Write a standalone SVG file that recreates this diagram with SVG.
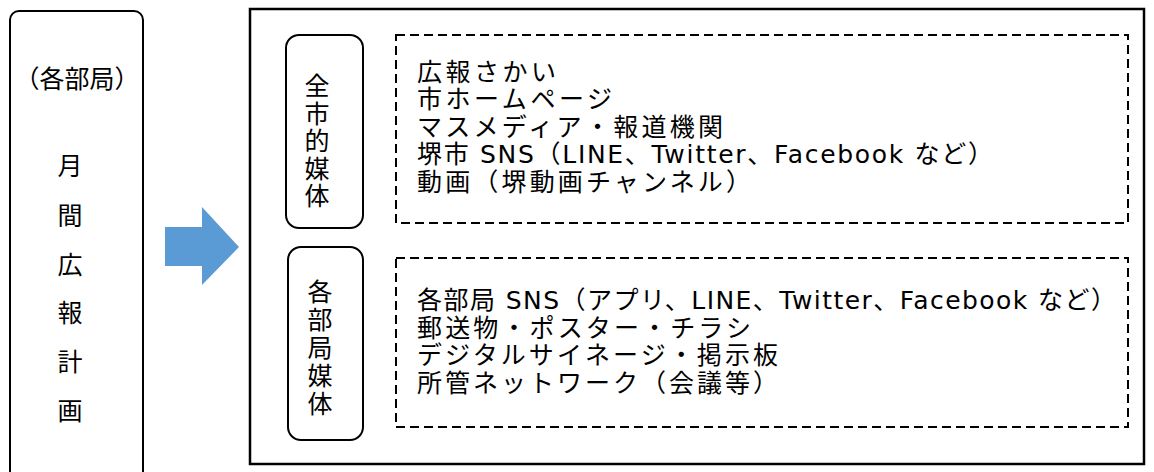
<svg xmlns="http://www.w3.org/2000/svg" width="1154" height="472" viewBox="0 0 1154 472">
<style>
.jp{font-family:"DejaVu Sans","Noto Sans CJK JP",sans-serif;font-size:25px;fill:#000}
.lbl{font-family:"DejaVu Sans","Noto Sans CJK JP",sans-serif;fill:#000}
.solid{fill:#fff;stroke:#000;stroke-width:2}
.dash{fill:none;stroke:#000;stroke-width:2;stroke-dasharray:9 5}
</style>
<rect width="1154" height="472" fill="#fff"/>
<g id="plan">
<rect class="solid" x="10" y="11" width="133" height="480" rx="9"/>
<text class="lbl" x="77" y="88" font-size="25" text-anchor="middle">（各部局）</text>
<g class="lbl" font-size="25" text-anchor="middle">
<text x="70" y="175">月</text>
<text x="70" y="225">間</text>
<text x="70" y="274">広</text>
<text x="70" y="322">報</text>
<text x="70" y="371">計</text>
<text x="70" y="420">画</text>
</g>
</g>
<g id="connectors">
<polygon points="165,227 202,227 202,207 239,247 202,285 202,266 165,266" fill="#5B9BD5"/>
</g>
<g id="media">
<rect x="250" y="9" width="894" height="455" fill="#fff" stroke="#000" stroke-width="2.5"/>
</g>
<g id="citywide">
<rect class="solid" x="286" y="35" width="77" height="193" rx="13"/>
<g class="lbl" font-size="25" text-anchor="middle">
<text x="317" y="95">全</text>
<text x="317" y="123">市</text>
<text x="317" y="150">的</text>
<text x="317" y="178">媒</text>
<text x="317" y="205">体</text>
</g>
<rect class="dash" x="396" y="35" width="732" height="188"/>
<text class="jp" x="417" y="81" textLength="139" lengthAdjust="spacing">広報さかい</text>
<text class="jp" x="417" y="108" textLength="195" lengthAdjust="spacing">市ホームページ</text>
<text class="jp" x="417" y="136" textLength="306" lengthAdjust="spacing">マスメディア・報道機関</text>
<text class="jp" x="417" y="163" textLength="576" lengthAdjust="spacing">堺市 SNS（LINE、Twitter、Facebook など）</text>
<text class="jp" x="417" y="191" textLength="334" lengthAdjust="spacing">動画（堺動画チャンネル）</text>
</g>
<g id="bureau">
<rect class="solid" x="288" y="247" width="75" height="193" rx="13"/>
<g class="lbl" font-size="25" text-anchor="middle">
<text x="320" y="301">各</text>
<text x="320" y="329">部</text>
<text x="320" y="357">局</text>
<text x="320" y="385">媒</text>
<text x="320" y="413">体</text>
</g>
<rect class="dash" x="396" y="258" width="732" height="169"/>
<text class="jp" x="417" y="309" textLength="699" lengthAdjust="spacing">各部局 SNS（アプリ、LINE、Twitter、Facebook など）</text>
<text class="jp" x="417" y="337" textLength="334" lengthAdjust="spacing">郵送物・ポスター・チラシ</text>
<text class="jp" x="417" y="364" textLength="361" lengthAdjust="spacing">デジタルサイネージ・掲示板</text>
<text class="jp" x="417" y="392" textLength="361" lengthAdjust="spacing">所管ネットワーク（会議等）</text>
</g>
</svg>
